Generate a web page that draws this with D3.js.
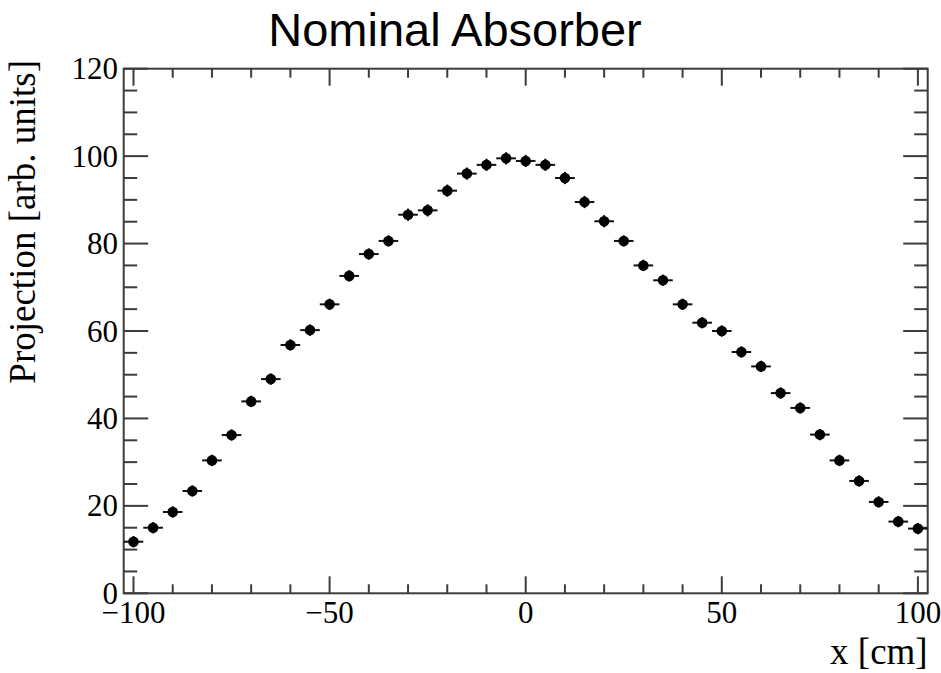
<!DOCTYPE html>
<html>
<head>
<meta charset="utf-8">
<script src="https://cdn.jsdelivr.net/npm/d3@7"></script>
<style>
  html, body { margin: 0; padding: 0; background: #fff; }
  svg { display: block; }
</style>
</head>
<body>
<svg id="chart" width="941" height="673"></svg>
<script>
// Bin centres (cm) and measured projection per bin
const xCenters = [-100, -95, -90, -85, -80, -75, -70, -65, -60, -55, -50, -45, -40, -35, -30, -25, -20, -15, -10, -5,
  0, 5, 10, 15, 20, 25, 30, 35, 40, 45, 50, 55, 60, 65, 70, 75, 80, 85, 90, 95, 100];
const projection = [11.8, 15.0, 18.6, 23.4, 30.4, 36.2, 43.9, 49.0, 56.8, 60.2, 66.1, 72.6, 77.6, 80.6, 86.6, 87.6, 92.1, 96.0, 98.0, 99.5,
  98.9, 98.0, 95.0, 89.5, 85.1, 80.6, 75.0, 71.6, 66.1, 61.9, 60.0, 55.2, 51.9, 45.8, 42.4, 36.3, 30.4, 25.7, 20.9, 16.4, 14.8];
const projErr = [1.3, 1.3, 1.3, 1.3, 1.3, 1.3, 1.3, 1.3, 1.3, 1.3, 1.3, 1.3, 1.3, 1.3, 1.4, 1.4, 1.4, 1.4, 1.4, 1.4,
  1.4, 1.4, 1.4, 1.4, 1.4, 1.3, 1.3, 1.3, 1.3, 1.3, 1.3, 1.3, 1.3, 1.3, 1.3, 1.3, 1.3, 1.3, 1.3, 1.3, 1.3];
const binHalfWidth = 2.5;

const xMajorTicks = [-100, -50, 0, 50, 100];
const xMinorTicks = [-90, -80, -70, -60, -40, -30, -20, -10, 10, 20, 30, 40, 60, 70, 80, 90];
const yMajorTicks = [0, 20, 40, 60, 80, 100, 120];
const yMinorTicks = [5, 10, 15, 25, 30, 35, 45, 50, 55, 65, 70, 75, 85, 90, 95, 105, 110, 115];

const title = "Nominal Absorber";
const xTitle = "x [cm]";
const yTitle = "Projection [arb. units]";

const frame = { left: 123.7, right: 927.7, top: 68.7, bottom: 593.3 };
const svg = d3.select("#chart");

const x = d3.scaleLinear().domain([-102.5, 102.5]).range([frame.left, frame.right]);
const y = d3.scaleLinear().domain([0, 120]).range([frame.bottom, frame.top]);

const axisColor = "#3c3c3c";
const serif = "'Liberation Serif', 'Times New Roman', serif";
const fmt = d3.format("d");

// Ticks on all four sides, pointing inward
const tickG = svg.append("g").attr("stroke", axisColor).attr("stroke-width", 2);
function xTicks(vals, len) {
  tickG.selectAll(null).data(vals).join("line")
    .attr("x1", d => x(d)).attr("x2", d => x(d))
    .attr("y1", frame.bottom).attr("y2", frame.bottom - len);
  tickG.selectAll(null).data(vals).join("line")
    .attr("x1", d => x(d)).attr("x2", d => x(d))
    .attr("y1", frame.top).attr("y2", frame.top + len);
}
function yTicks(vals, len) {
  tickG.selectAll(null).data(vals).join("line")
    .attr("y1", d => y(d)).attr("y2", d => y(d))
    .attr("x1", frame.left).attr("x2", frame.left + len);
  tickG.selectAll(null).data(vals).join("line")
    .attr("y1", d => y(d)).attr("y2", d => y(d))
    .attr("x1", frame.right).attr("x2", frame.right - len);
}
xTicks(xMajorTicks, 17);
xTicks(xMinorTicks, 9);
yTicks(yMajorTicks, 24.5);
yTicks(yMinorTicks, 13.5);

// Frame
svg.append("rect")
  .attr("x", frame.left).attr("y", frame.top)
  .attr("width", frame.right - frame.left).attr("height", frame.bottom - frame.top)
  .attr("fill", "none").attr("stroke", axisColor).attr("stroke-width", 2);

// Tick labels
svg.append("g").selectAll("text").data(xMajorTicks).join("text")
  .attr("x", d => x(d)).attr("y", 623)
  .attr("text-anchor", "middle")
  .attr("font-family", serif).attr("font-size", 31).attr("fill", "#000")
  .text(d => fmt(d));

svg.append("g").selectAll("text").data(yMajorTicks).join("text")
  .attr("x", 118).attr("y", d => y(d))
  .attr("dy", "0.34em")
  .attr("text-anchor", "end")
  .attr("font-family", serif).attr("font-size", 31).attr("fill", "#000")
  .text(d => fmt(d));

// Axis titles
svg.append("text")
  .attr("x", frame.right).attr("y", 664)
  .attr("text-anchor", "end")
  .attr("font-family", serif).attr("font-size", 37).attr("fill", "#000")
  .text(xTitle);

svg.append("text")
  .attr("transform", "translate(35,60) rotate(-90)")
  .attr("text-anchor", "end")
  .attr("font-family", serif).attr("font-size", 37).attr("fill", "#000")
  .text(yTitle);

// Title
svg.append("text")
  .attr("x", 455).attr("y", 46)
  .attr("text-anchor", "middle")
  .attr("font-family", "'Liberation Sans', Arial, sans-serif").attr("font-size", 47).attr("fill", "#000")
  .text(title);

// Data points with error bars
const pts = xCenters.map((xc, i) => ({ x: xc, v: projection[i], e: projErr[i] }));
const dataG = svg.append("g");
dataG.selectAll("line.h").data(pts).join("line").attr("class", "h")
  .attr("x1", d => x(d.x - binHalfWidth)).attr("x2", d => x(d.x + binHalfWidth))
  .attr("y1", d => y(d.v)).attr("y2", d => y(d.v))
  .attr("stroke", "#111").attr("stroke-width", 2);
dataG.selectAll("line.v").data(pts).join("line").attr("class", "v")
  .attr("x1", d => x(d.x)).attr("x2", d => x(d.x))
  .attr("y1", d => y(d.v - d.e)).attr("y2", d => y(d.v + d.e))
  .attr("stroke", "#111").attr("stroke-width", 2);
dataG.selectAll("circle").data(pts).join("circle")
  .attr("cx", d => x(d.x)).attr("cy", d => y(d.v)).attr("r", 5.3)
  .attr("fill", "#000");
</script>
</body>
</html>
